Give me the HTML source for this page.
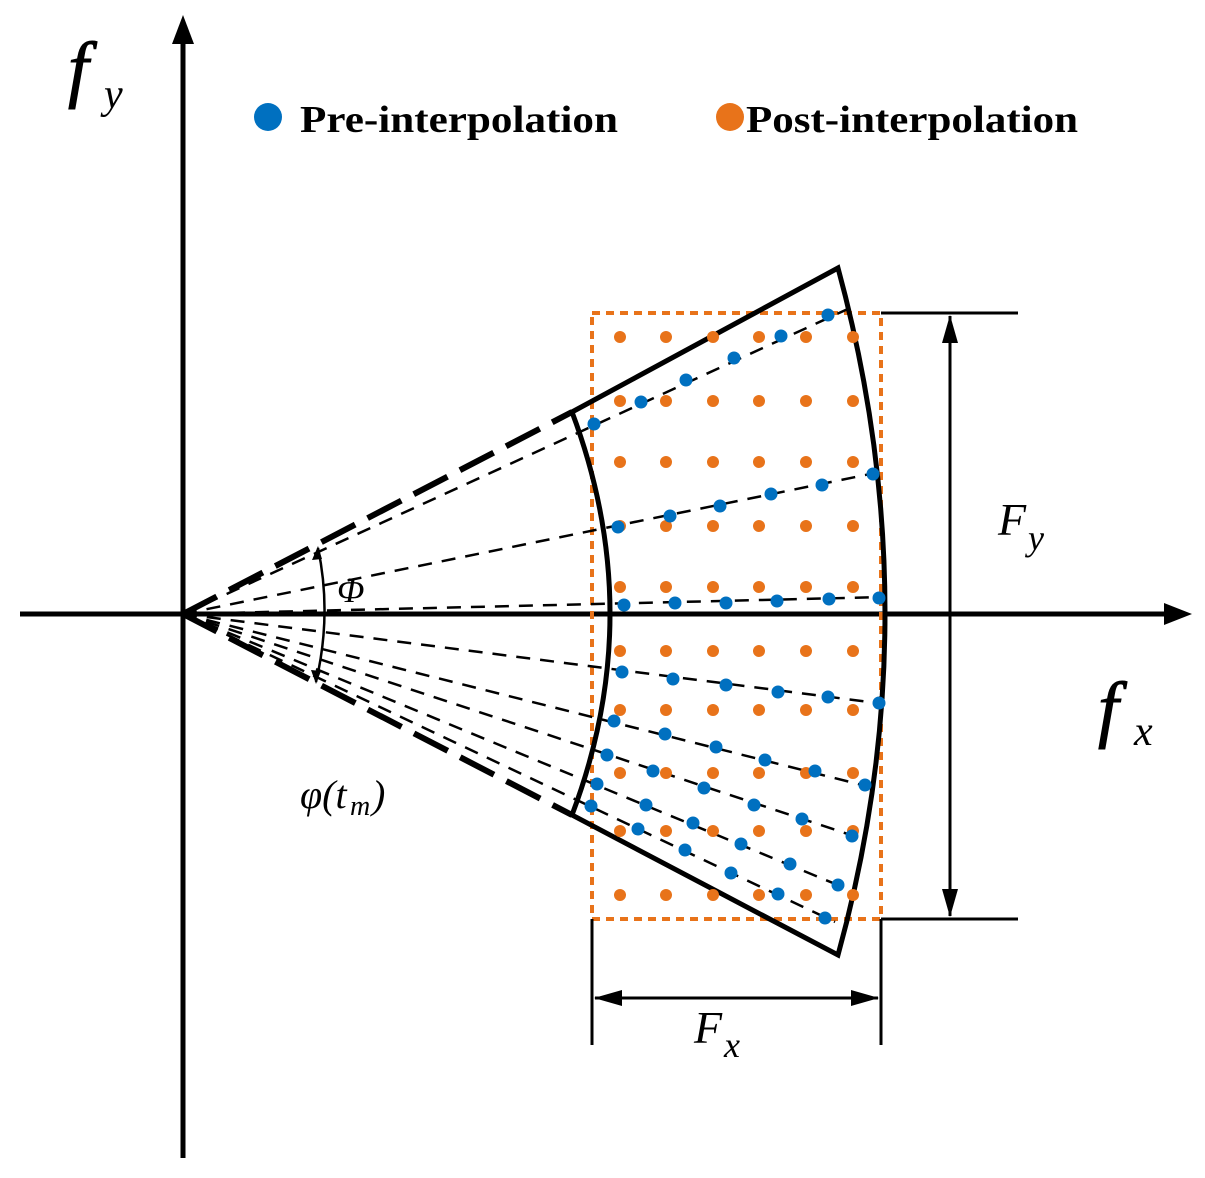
<!DOCTYPE html>
<html><head><meta charset="utf-8"><style>html,body{margin:0;padding:0;background:#fff}svg{display:block}</style></head>
<body>
<svg width="1205" height="1178" viewBox="0 0 1205 1178" xmlns="http://www.w3.org/2000/svg" font-family="'Liberation Serif', serif">
<defs>
<marker id="am" viewBox="0 0 28 16" markerWidth="28" markerHeight="16" refX="27" refY="8" orient="auto-start-reverse" markerUnits="userSpaceOnUse"><path d="M0,0 L28,8 L0,16 z" fill="#000"/></marker>
</defs>
<!-- axes -->
<line x1="20" y1="614" x2="1170" y2="614" stroke="#000" stroke-width="5"/>
<path d="M1192,614 L1164,603 L1164,625 z" fill="#000"/>
<line x1="183" y1="1158" x2="183" y2="40" stroke="#000" stroke-width="5"/>
<path d="M183,15 L172,44 L194,44 z" fill="#000"/>
<!-- orange rect -->
<rect x="592" y="313" width="289" height="606" fill="none" stroke="#e8731a" stroke-width="4" stroke-dasharray="8,6"/>
<!-- thick dashed edges -->
<g stroke="#000" stroke-width="6" stroke-dasharray="38,14" fill="none">
<line x1="183" y1="614" x2="572" y2="412"/>
<line x1="183" y1="614" x2="572" y2="815"/>
</g>
<!-- thin dashed rays -->
<g stroke="#000" stroke-width="2.5" stroke-dasharray="14,10" fill="none">
<line x1="183" y1="614" x2="850" y2="308"/>
<line x1="183" y1="614" x2="880" y2="472"/>
<line x1="183" y1="614" x2="885" y2="597"/>
<line x1="183" y1="614" x2="885" y2="704"/>
<line x1="183" y1="614" x2="870" y2="787"/>
<line x1="183" y1="614" x2="860" y2="838"/>
<line x1="183" y1="614" x2="845" y2="888"/>
<line x1="183" y1="614" x2="835" y2="922"/>
</g>
<!-- fan -->
<path d="M572,412 L838,268 Q932,614 838,955 L572,815 Q648,614 572,412 z" fill="none" stroke="#000" stroke-width="5" stroke-linejoin="miter"/>
<!-- orange dots -->
<g fill="#e8731a">
<circle cx="620" cy="337" r="6"/><circle cx="666" cy="337" r="6"/><circle cx="713" cy="337" r="6"/><circle cx="759" cy="337" r="6"/><circle cx="806" cy="337" r="6"/><circle cx="853" cy="337" r="6"/>
<circle cx="620" cy="401" r="6"/><circle cx="666" cy="401" r="6"/><circle cx="713" cy="401" r="6"/><circle cx="759" cy="401" r="6"/><circle cx="806" cy="401" r="6"/><circle cx="853" cy="401" r="6"/>
<circle cx="620" cy="462" r="6"/><circle cx="666" cy="462" r="6"/><circle cx="713" cy="462" r="6"/><circle cx="759" cy="462" r="6"/><circle cx="806" cy="462" r="6"/><circle cx="853" cy="462" r="6"/>
<circle cx="620" cy="526" r="6"/><circle cx="666" cy="526" r="6"/><circle cx="713" cy="526" r="6"/><circle cx="759" cy="526" r="6"/><circle cx="806" cy="526" r="6"/><circle cx="853" cy="526" r="6"/>
<circle cx="620" cy="587" r="6"/><circle cx="666" cy="587" r="6"/><circle cx="713" cy="587" r="6"/><circle cx="759" cy="587" r="6"/><circle cx="806" cy="587" r="6"/><circle cx="853" cy="587" r="6"/>
<circle cx="620" cy="651" r="6"/><circle cx="666" cy="651" r="6"/><circle cx="713" cy="651" r="6"/><circle cx="759" cy="651" r="6"/><circle cx="806" cy="651" r="6"/><circle cx="853" cy="651" r="6"/>
<circle cx="620" cy="710" r="6"/><circle cx="666" cy="710" r="6"/><circle cx="713" cy="710" r="6"/><circle cx="759" cy="710" r="6"/><circle cx="806" cy="710" r="6"/><circle cx="853" cy="710" r="6"/>
<circle cx="620" cy="773" r="6"/><circle cx="666" cy="773" r="6"/><circle cx="713" cy="773" r="6"/><circle cx="759" cy="773" r="6"/><circle cx="806" cy="773" r="6"/><circle cx="853" cy="773" r="6"/>
<circle cx="620" cy="831" r="6"/><circle cx="666" cy="831" r="6"/><circle cx="713" cy="831" r="6"/><circle cx="759" cy="831" r="6"/><circle cx="806" cy="831" r="6"/><circle cx="853" cy="831" r="6"/>
<circle cx="620" cy="895" r="6"/><circle cx="666" cy="895" r="6"/><circle cx="713" cy="895" r="6"/><circle cx="759" cy="895" r="6"/><circle cx="806" cy="895" r="6"/><circle cx="853" cy="895" r="6"/>
</g>
<!-- blue dots -->
<g fill="#0070c0">
<circle cx="594" cy="424" r="6.5"/><circle cx="641" cy="402" r="6.5"/><circle cx="686" cy="380" r="6.5"/><circle cx="734" cy="358" r="6.5"/><circle cx="781" cy="336" r="6.5"/><circle cx="828" cy="315" r="6.5"/>
<circle cx="618" cy="527" r="6.5"/><circle cx="670" cy="516" r="6.5"/><circle cx="720" cy="506" r="6.5"/><circle cx="771" cy="494" r="6.5"/><circle cx="822" cy="485" r="6.5"/><circle cx="873" cy="474" r="6.5"/>
<circle cx="624" cy="605" r="6.5"/><circle cx="675" cy="603" r="6.5"/><circle cx="726" cy="603" r="6.5"/><circle cx="777" cy="601" r="6.5"/><circle cx="829" cy="599" r="6.5"/><circle cx="879" cy="598" r="6.5"/>
<circle cx="622" cy="672" r="6.5"/><circle cx="673" cy="679" r="6.5"/><circle cx="726" cy="685" r="6.5"/><circle cx="778" cy="692" r="6.5"/><circle cx="828" cy="697" r="6.5"/><circle cx="879" cy="703" r="6.5"/>
<circle cx="614" cy="721" r="6.5"/><circle cx="665" cy="734" r="6.5"/><circle cx="716" cy="747" r="6.5"/><circle cx="765" cy="760" r="6.5"/><circle cx="815" cy="771" r="6.5"/><circle cx="865" cy="785" r="6.5"/>
<circle cx="607" cy="755" r="6.5"/><circle cx="653" cy="771" r="6.5"/><circle cx="704" cy="788" r="6.5"/><circle cx="754" cy="805" r="6.5"/><circle cx="802" cy="819" r="6.5"/><circle cx="852" cy="836" r="6.5"/>
<circle cx="597" cy="784" r="6.5"/><circle cx="646" cy="805" r="6.5"/><circle cx="693" cy="823" r="6.5"/><circle cx="741" cy="844" r="6.5"/><circle cx="790" cy="864" r="6.5"/><circle cx="838" cy="885" r="6.5"/>
<circle cx="591" cy="806" r="6.5"/><circle cx="638" cy="829" r="6.5"/><circle cx="685" cy="850" r="6.5"/><circle cx="731" cy="873" r="6.5"/><circle cx="778" cy="894" r="6.5"/><circle cx="825" cy="918" r="6.5"/>
</g>
<!-- angle arc -->
<path d="M318,548 Q332,614 316,682" fill="none" stroke="#000" stroke-width="2.5"/>
<path d="M318,546 L312,560 L322,559 z" fill="#000"/>
<path d="M316,684 L311,670 L321,671 z" fill="#000"/>
<!-- dimensions -->
<g stroke="#000" stroke-width="3">
<line x1="881" y1="313" x2="1018" y2="313"/>
<line x1="881" y1="919" x2="1018" y2="919"/>
<line x1="950" y1="316" x2="950" y2="916" marker-start="url(#am)" marker-end="url(#am)"/>
<line x1="592" y1="919" x2="592" y2="1045"/>
<line x1="881" y1="919" x2="881" y2="1045"/>
<line x1="595" y1="998" x2="878" y2="998" marker-start="url(#am)" marker-end="url(#am)"/>
</g>
<!-- labels -->
<text x="68" y="93" font-size="74" font-style="italic" stroke="#000" stroke-width="1">f</text>
<text x="104" y="108" font-size="42" font-style="italic">y</text>
<text x="1098" y="733" font-size="74" font-style="italic" stroke="#000" stroke-width="1">f</text>
<text x="1134" y="745" font-size="42" font-style="italic">x</text>
<text x="998" y="535" font-size="46" font-style="italic">F</text>
<text x="1028" y="550" font-size="36" font-style="italic">y</text>
<text x="694" y="1043" font-size="46" font-style="italic">F</text>
<text x="724" y="1057" font-size="36" font-style="italic">x</text>
<text x="337" y="602" font-size="36" font-style="italic">Φ</text>
<text x="300" y="808" font-size="40" font-style="italic">φ(t</text>
<text x="350" y="815" font-size="28" font-style="italic">m</text>
<text x="372" y="808" font-size="40" font-style="italic">)</text>
<!-- legend -->
<circle cx="268" cy="117" r="14" fill="#0070c0"/>
<text x="300" y="132" font-size="38" font-weight="bold" textLength="318" lengthAdjust="spacingAndGlyphs">Pre-interpolation</text>
<circle cx="730" cy="117" r="14" fill="#e8731a"/>
<text x="746" y="132" font-size="38" font-weight="bold" textLength="332" lengthAdjust="spacingAndGlyphs">Post-interpolation</text>
</svg>
</body></html>
